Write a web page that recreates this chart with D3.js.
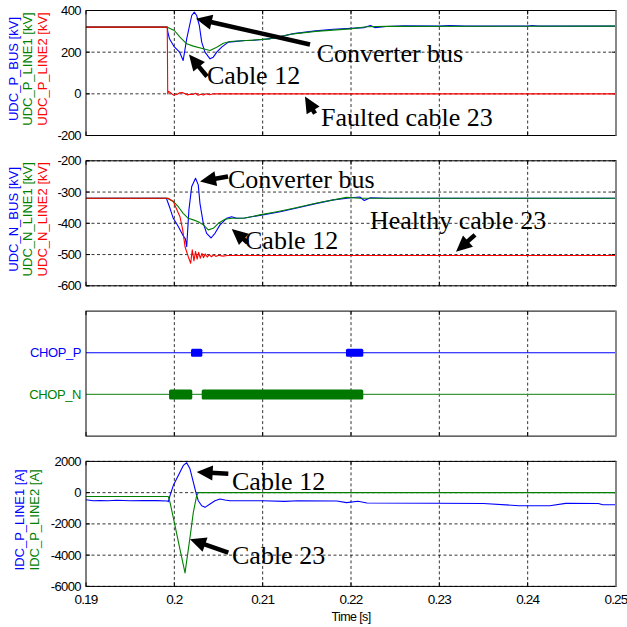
<!DOCTYPE html>
<html><head><meta charset="utf-8">
<script src="https://cdn.jsdelivr.net/npm/d3@7"></script>
<style>body{margin:0;background:#fff}svg{display:block}</style>
</head><body>
<svg id="c" width="627" height="627"></svg>
<script>
// ---------- data ----------
const timeTicks = [0.19, 0.20, 0.21, 0.22, 0.23, 0.24, 0.25];
const timeTickLabels = ["0.19", "0.2", "0.21", "0.22", "0.23", "0.24", "0.25"];
const timeLabel = "Time [s]";

const p1Ticks = [400, 200, 0, -200];
const p2Ticks = [-200, -300, -400, -500, -600];
const p4Ticks = [2000, 0, -2000, -4000, -6000];
const chopCategories = ["CHOP_P", "CHOP_N"];

// Panel 1: positive pole voltages [kV]
const udcPBus = [[0.19,320],[0.1992,320],[0.19925,300],[0.19945,264],[0.2000,225],[0.2006,200],[0.2010,160],[0.20140,264],[0.20197,376],[0.20226,392],[0.20253,376],[0.20283,328],[0.20310,248],[0.20347,200],[0.20404,168],[0.20441,176],[0.20480,200],[0.20536,224],[0.20611,248],[0.2070,252],[0.2080,256],[0.2090,257],[0.2100,261],[0.2110,266],[0.2135,289],[0.2160,302],[0.2180,310],[0.2200,314],[0.2215,318],[0.2222,328],[0.2227,318],[0.2240,323],[0.2260,326],[0.2300,325],[0.2312,328],[0.2330,325],[0.2400,325],[0.2405,328],[0.2412,325],[0.25,325]];
const udcPLine1 = [[0.19,320],[0.1992,320],[0.2000,304],[0.20064,272],[0.20140,240],[0.20215,229],[0.20328,216],[0.20404,208],[0.20480,224],[0.20555,243],[0.20630,251],[0.20819,256],[0.21083,264],[0.21347,288],[0.2160,300],[0.21989,312],[0.22178,322],[0.2240,324],[0.25,325]];
const udcPLine2 = [[0.19,320],[0.1992,320],[0.19922,200],[0.19925,0],[0.19935,12],[0.1996,4],[0.1999,-6],[0.2003,-3],[0.2006,5],[0.2009,6],[0.2012,0],[0.2015,-5],[0.2018,-2],[0.2021,-3],[0.2024,3],[0.2027,-7],[0.2030,-2],[0.2033,-6],[0.2036,0],[0.2040,-4],[0.2043,-1],[0.2046,0],[0.25,0]];

// Panel 2: negative pole voltages [kV]
const udcNBus = [[0.19,-320],[0.1991,-320],[0.19951,-352],[0.19988,-384],[0.20045,-410],[0.20100,-440],[0.20125,-450],[0.20140,-475],[0.20165,-357],[0.20197,-282],[0.20240,-256],[0.20271,-277],[0.20290,-336],[0.20328,-400],[0.20366,-432],[0.20415,-447],[0.20460,-432],[0.20517,-405],[0.20592,-384],[0.20649,-379],[0.20705,-384],[0.2080,-383],[0.2100,-373],[0.2120,-363],[0.2140,-350],[0.2160,-337],[0.2180,-325],[0.2200,-318],[0.2210,-316],[0.2215,-327],[0.2222,-318],[0.2240,-320],[0.25,-320]];
const udcNLine1 = [[0.19,-320],[0.1992,-320],[0.19988,-330],[0.20045,-347],[0.20100,-368],[0.20158,-384],[0.20215,-389],[0.20271,-395],[0.20328,-405],[0.20385,-421],[0.20441,-416],[0.20498,-400],[0.20573,-387],[0.20649,-384],[0.20781,-384],[0.2097,-373],[0.2116,-363],[0.2135,-352],[0.2160,-336],[0.2195,-317],[0.2210,-320],[0.25,-320]];
const udcNLine2 = [[0.19,-320],[0.1993,-320],[0.19988,-330],[0.20064,-379],[0.20095,-421],[0.20121,-475],[0.20158,-507],[0.20185,-528],[0.20203,-485],[0.20222,-520],[0.20240,-490],[0.20258,-515],[0.20276,-493],[0.20294,-512],[0.20312,-496],[0.20330,-510],[0.20350,-498],[0.20372,-508],[0.20395,-500],[0.20420,-507],[0.20445,-501],[0.20470,-506],[0.2050,-502],[0.2055,-505],[0.2060,-503],[0.25,-503]];

// Panel 3: chopper active intervals [s]
const chopPOn = [[0.20189,0.20317],[0.21943,0.22139]];
const chopNOn = [[0.19940,0.20203],[0.20310,0.22139]];

// Panel 4: currents [A]
const idcLine1 = [[0.19,-450],[0.1908,-515],[0.1916,-500],[0.1925,-520],[0.1935,-490],[0.1950,-515],[0.1965,-500],[0.1980,-510],[0.1992,-530],[0.19932,-580],[0.19951,-190],[0.19988,452],[0.20045,1097],[0.20102,1742],[0.20140,1916],[0.20177,1529],[0.20215,671],[0.20253,-190],[0.20271,-515],[0.20310,-838],[0.20347,-941],[0.20404,-728],[0.20460,-515],[0.20517,-405],[0.20573,-470],[0.20630,-515],[0.2100,-515],[0.2125,-560],[0.2140,-515],[0.2184,-530],[0.2195,-640],[0.2208,-555],[0.2218,-660],[0.2295,-680],[0.2350,-690],[0.2390,-838],[0.2425,-838],[0.2443,-686],[0.2480,-690],[0.2485,-773],[0.25,-773]];
const idcLine2 = [[0.19,-250],[0.19932,-250],[0.19951,-620],[0.20008,-2128],[0.20064,-3630],[0.20121,-5135],[0.20177,-2877],[0.20215,-1264],[0.20253,-190],[0.20271,0],[0.25,0]];

// Axis labels
const p1Labels = [["UDC_P_BUS [kV]","#0000ff"],["UDC_P_LINE1 [kV]","#008000"],["UDC_P_LINE2 [kV]","#ff0000"]];
const p2Labels = [["UDC_N_BUS [kV]","#0000ff"],["UDC_N_LINE1 [kV]","#008000"],["UDC_N_LINE2 [kV]","#ff0000"]];
const p4Labels = [["IDC_P_LINE1 [A]","#0000ff"],["IDC_P_LINE2 [A]","#008000"]];

// Annotations: [text, t, value]; arrows: [tailT, tailV, tipT, tipV]
const p1Texts = [["Converter bus",0.21611,155],["Cable 12",0.20370,48],["Faulted cable 23",0.21660,-152]];
const p1Arrows = [[0.21536,237,0.20245,361],[0.20370,83,0.20166,189],[0.21593,-95,0.21479,-13]];
const p2Texts = [["Converter bus",0.20608,-286],["Cable 12",0.20800,-483],["Healthy cable 23",0.22215,-418]];
const p2Arrows = [[0.20608,-250,0.20291,-266],[0.20830,-462,0.20650,-418],[0.23404,-437,0.23189,-491]];
const p4Texts = [["Cable 12",0.20653,194],["Cable 23",0.20653,-4598]];
const p4Arrows = [[0.20611,1207,0.20253,1316],[0.20611,-3845,0.20177,-2986]];

// ---------- drawing ----------
const L = 86, R = 616, TOP0 = 10.5, H = 125, GAP = 25.3;
const SANS = "'Liberation Sans', Arial, sans-serif";
const SERIF = "'Liberation Serif', 'Times New Roman', serif";
const BLUE = "#0000ff", GREEN = "#008000", RED = "#ff0000";
const svg = d3.select("#c");
const x = d3.scaleLinear().domain([0.19, 0.25]).range([L, R]);
const panelTop = i => TOP0 + i * (H + GAP);

function frame(i, yScale, yTicks, hGrid, showX) {
  const g = svg.append("g");
  const t = panelTop(i), b = t + H;
  g.selectAll(null).data(timeTicks.slice(1, -1)).join("line")
    .attr("x1", d => x(d)).attr("x2", d => x(d)).attr("y1", t).attr("y2", b)
    .attr("stroke", "#000").attr("stroke-width", 0.8).attr("stroke-dasharray", "3,2.5");
  if (hGrid) {
    g.selectAll(null).data(yTicks).join("line")
      .attr("x1", L).attr("x2", R).attr("y1", d => yScale(d)).attr("y2", d => yScale(d))
      .attr("stroke", "#000").attr("stroke-width", 0.8).attr("stroke-dasharray", "3,2.5");
  }
  g.selectAll(null).data(timeTicks).join("line")
    .attr("x1", d => x(d)).attr("x2", d => x(d)).attr("y1", b).attr("y2", b - 4)
    .attr("stroke", "#000").attr("stroke-width", 1);
  g.selectAll(null).data(timeTicks).join("line")
    .attr("x1", d => x(d)).attr("x2", d => x(d)).attr("y1", t).attr("y2", t + 4)
    .attr("stroke", "#000").attr("stroke-width", 1);
  if (yScale) {
    g.selectAll(null).data(yTicks).join("line")
      .attr("x1", L).attr("x2", L + 4).attr("y1", d => yScale(d)).attr("y2", d => yScale(d))
      .attr("stroke", "#000");
    g.selectAll(null).data(yTicks).join("line")
      .attr("x1", R).attr("x2", R - 4).attr("y1", d => yScale(d)).attr("y2", d => yScale(d))
      .attr("stroke", "#000");
    g.selectAll(null).data(yTicks).join("text")
      .attr("x", L - 5).attr("y", d => yScale(d) + 4.5).attr("text-anchor", "end")
      .attr("font-family", SANS).attr("font-size", 13).attr("letter-spacing", -0.6)
      .text(d => d);
  }
  if (showX) {
    g.selectAll(null).data(timeTicks).join("text")
      .attr("x", (d) => x(d)).attr("y", b + 18).attr("text-anchor", "middle")
      .attr("font-family", SANS).attr("font-size", 13.5).attr("letter-spacing", -0.8)
      .text((d, k) => timeTickLabels[k]);
    g.append("text").attr("x", (L + R) / 2).attr("y", b + 35).attr("text-anchor", "middle")
      .attr("font-family", SANS).attr("font-size", 12.5).attr("letter-spacing", -0.6).text(timeLabel);
  }
  return g;
}

function box(i) {
  const t = panelTop(i);
  svg.append("rect").attr("x", L).attr("y", t).attr("width", R - L).attr("height", H)
    .attr("fill", "none").attr("stroke", "#000").attr("stroke-width", 1);
  svg.append("line").attr("x1", R).attr("x2", R).attr("y1", t).attr("y2", t + H)
    .attr("stroke", "#888").attr("stroke-width", 2);
}

function yLabels(i, labels, xs) {
  const cy = panelTop(i) + H / 2 - 4;
  labels.forEach((lb, k) => {
    svg.append("text").attr("transform", `translate(${xs[k]},${cy}) rotate(-90)`)
      .attr("text-anchor", "middle").attr("font-family", SANS).attr("font-size", 13)
      .attr("fill", lb[1]).text(lb[0]);
  });
}

function series(yScale, data, color) {
  const line = d3.line().x(d => x(d[0])).y(d => yScale(d[1]));
  svg.append("path").datum(data).attr("d", line).attr("fill", "none")
    .attr("stroke", color).attr("stroke-width", 1.1).attr("stroke-linejoin", "round");
}

function arrows(yScale, list) {
  const hl = 16, hw = 7.5;
  list.forEach(a => {
    const x0 = x(a[0]), y0 = yScale(a[1]), x1 = x(a[2]), y1 = yScale(a[3]);
    const dx = x1 - x0, dy = y1 - y0, len = Math.hypot(dx, dy);
    const ux = dx / len, uy = dy / len;
    const bx = x1 - ux * hl, by = y1 - uy * hl;
    svg.append("line").attr("x1", x0).attr("y1", y0).attr("x2", bx + ux * 2).attr("y2", by + uy * 2)
      .attr("stroke", "#000").attr("stroke-width", 4.5);
    svg.append("path").attr("d", `M${x1},${y1}L${bx - uy * hw},${by + ux * hw}L${bx + uy * hw},${by - ux * hw}Z`)
      .attr("fill", "#000");
  });
}

function texts(yScale, list) {
  list.forEach(tx => {
    svg.append("text").attr("x", x(tx[1])).attr("y", yScale(tx[2]))
      .attr("font-family", SERIF).attr("font-size", 26).attr("fill", "#000").text(tx[0]);
  });
}

// Panel 1
const y1 = d3.scaleLinear().domain([-200, 400]).range([panelTop(0) + H, panelTop(0)]);
frame(0, y1, p1Ticks, true, false);
series(y1, udcPBus, BLUE);
series(y1, udcPLine1, GREEN);
series(y1, udcPLine2, RED);
box(0);
yLabels(0, p1Labels, [18, 32, 47]);
arrows(y1, p1Arrows);
texts(y1, p1Texts);

// Panel 2
const y2 = d3.scaleLinear().domain([-600, -200]).range([panelTop(1) + H, panelTop(1)]);
frame(1, y2, p2Ticks, true, false);
series(y2, udcNBus, BLUE);
series(y2, udcNLine1, GREEN);
series(y2, udcNLine2, RED);
box(1);
yLabels(1, p2Labels, [18, 32, 47]);
arrows(y2, p2Arrows);
texts(y2, p2Texts);

// Panel 3
const y3 = d3.scalePoint().domain(chopCategories).range([panelTop(2), panelTop(2) + H]).padding(1);
frame(2, null, [], false, false);
svg.append("line").attr("x1", L).attr("x2", R).attr("y1", y3("CHOP_P")).attr("y2", y3("CHOP_P"))
  .attr("stroke", BLUE).attr("stroke-width", 1.1);
svg.append("line").attr("x1", L).attr("x2", R).attr("y1", y3("CHOP_N")).attr("y2", y3("CHOP_N"))
  .attr("stroke", "#3c9a3c").attr("stroke-width", 1.2);
svg.selectAll(null).data(chopPOn).join("rect")
  .attr("x", d => x(d[0])).attr("width", d => x(d[1]) - x(d[0]))
  .attr("y", y3("CHOP_P") - 4).attr("height", 8).attr("rx", 1.5).attr("fill", BLUE);
svg.selectAll(null).data(chopNOn).join("rect")
  .attr("x", d => x(d[0])).attr("width", d => x(d[1]) - x(d[0]))
  .attr("y", y3("CHOP_N") - 5).attr("height", 10).attr("rx", 1.5).attr("fill", "#007800");
svg.selectAll(null).data(chopCategories).join("text")
  .attr("x", L - 5).attr("y", d => y3(d) + 4.5).attr("text-anchor", "end")
  .attr("font-family", SANS).attr("font-size", 13).attr("letter-spacing", -0.4)
  .attr("fill", d => d === "CHOP_P" ? BLUE : GREEN).text(d => d);
box(2);

// Panel 4
const y4 = d3.scaleLinear().domain([-6000, 2000]).range([panelTop(3) + H, panelTop(3)]);
frame(3, y4, p4Ticks, true, true);
series(y4, idcLine1, BLUE);
series(y4, idcLine2, GREEN);
box(3);
yLabels(3, p4Labels, [24, 39]);
arrows(y4, p4Arrows);
texts(y4, p4Texts);
</script>
</body></html>
